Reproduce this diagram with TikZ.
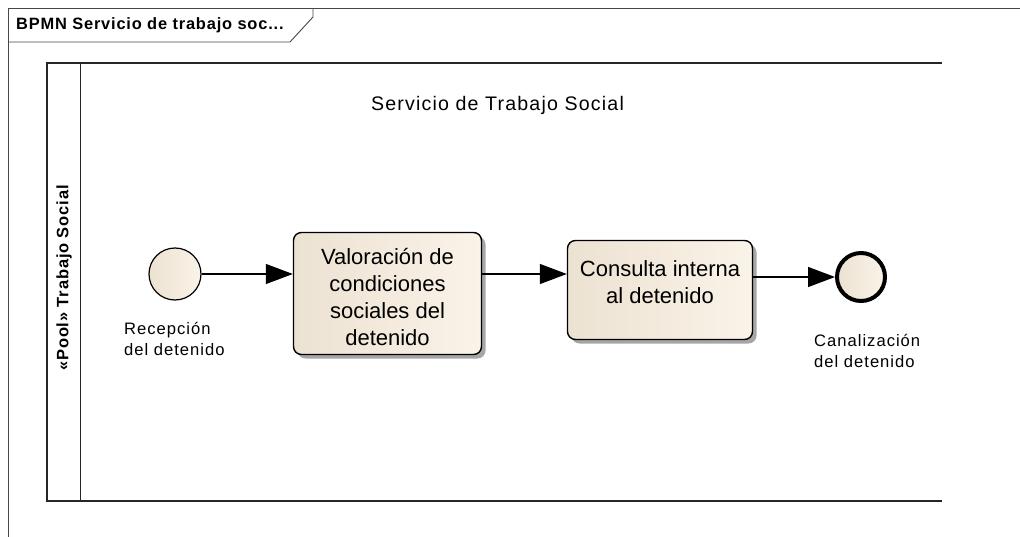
\documentclass[tikz,border=0pt]{standalone}
\usepackage{fontspec}
\setmainfont{Liberation Sans}
\newfontfamily\spfont[LetterSpace=6]{Liberation Sans}
\newfontfamily\spbold[LetterSpace=5,BoldFont={Liberation Sans Bold}]{Liberation Sans}
\usetikzlibrary{arrows.meta,shadows}
\definecolor{frameline}{RGB}{70,70,70}
\definecolor{beigeL}{RGB}{236,226,210}
\definecolor{beigeR}{RGB}{250,243,232}
\tikzset{
  framel/.style={draw=frameline,line width=0.9pt},
  poolline/.style={draw=black!85,line width=1.8pt},
  taskbox/.style={draw=black,line width=1.4pt,rounded corners=8pt,left color=beigeL,right color=beigeR,
     align=center,font=\fontsize{22}{27}\selectfont,
     drop shadow={shadow xshift=4pt,shadow yshift=-4pt,fill=black,opacity=0.35}},
  startev/.style={circle,draw=black,line width=1.2pt,left color=beigeL,right color=beigeR,minimum size=52pt,inner sep=0pt},
  endev/.style={circle,draw=black,line width=4pt,left color=beigeL,right color=beigeR,minimum size=48pt,inner sep=0pt},
  evlabel/.style={align=left,anchor=west,font=\spfont\fontsize{16.6}{21}\selectfont,inner sep=0pt},
  flow/.style={draw=black,line width=1.3pt,-{Triangle[length=27pt,width=20pt]}},
}
\begin{document}
\begin{tikzpicture}[x=1pt,y=-1pt]
\useasboundingbox (0,0) rectangle (1020,537);
% outer diagram frame
\draw[framel] (8.5,537) -- (8.5,8.5) -- (1020,8.5);
\draw[framel,fill=white] (8.5,8.5) -- (313,8.5) -- (313,17) -- (290,42) -- (8.5,42) -- cycle;
\node[anchor=west,inner sep=0pt,font=\spbold\bfseries\fontsize{16.4}{18}\selectfont] (title) at (16,25.5) {BPMN Servicio de trabajo soc...};
% pool
\draw[poolline] (942,63) -- (47,63) -- (47,501) -- (942,501);
\draw[poolline] (80.5,63) -- (80.5,501);
\node[rotate=90,inner sep=0pt,font=\spbold\bfseries\fontsize{16.5}{18}\selectfont] (poollabel) at (64,278) {«Pool» Trabajo Social};
\node[inner sep=0pt,font=\spfont\fontsize{19.6}{22}\selectfont] (pooltitle) at (497.5,105) {Servicio de Trabajo Social};
% events and tasks
\node[startev] (start) at (175,274) {};
\node[evlabel] (startlbl) at (124,338.5) {Recepción\\del detenido};
\node[taskbox,minimum width=188pt,minimum height=122pt,inner sep=0pt] (t1) at (387.5,293.5) {};
\node[align=center,inner sep=0pt,font=\fontsize{22}{27}\selectfont] (t1text) at (t1.center |- 0,297) {Valoración de\\condiciones\\sociales del\\detenido};
\node[taskbox,minimum width=185pt,minimum height=99pt,inner sep=0pt] (t2) at (660,290) {};
\node[align=center,inner sep=0pt,font=\fontsize{22}{27}\selectfont] (t2text) at (t2.center |- 0,282) {Consulta interna\\al detenido};
\node[endev] (end) at (861,277) {};
\node[evlabel] (endlbl) at (814,350.5) {Canalización\\del detenido};
% sequence flows
\draw[flow] (start.east) -- (start.east -| t1.west);
\draw[flow] (t1.east |- start.east) -- (t2.west |- start.east);
\draw[flow] (t2.east |- end.west) -- (end.west);
\end{tikzpicture}
\end{document}
